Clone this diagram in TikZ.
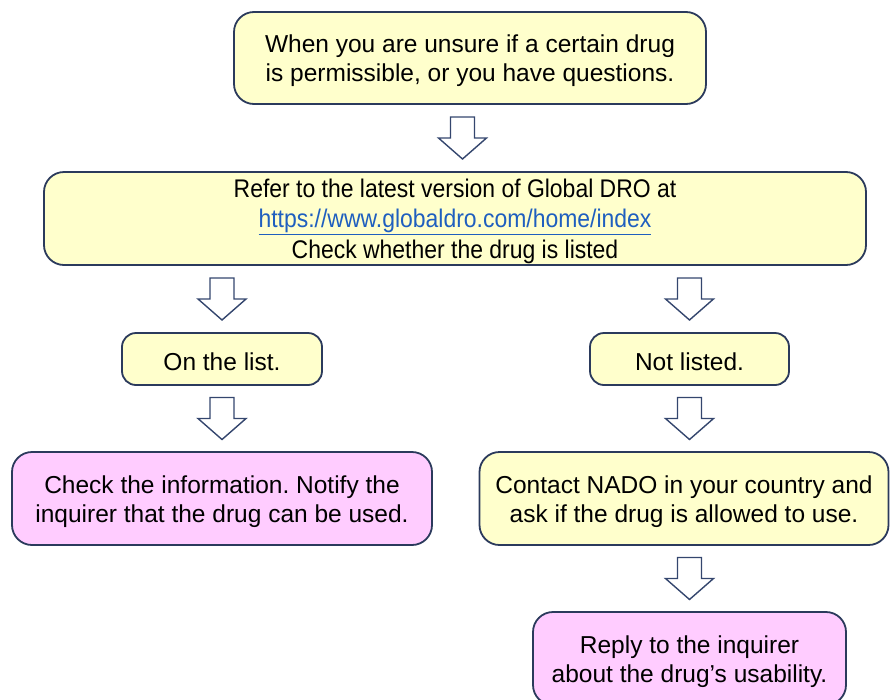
\documentclass[tikz,border=0pt]{standalone}
\usepackage{fontspec}
\setmainfont{Liberation Sans}
\usetikzlibrary{calc}
\definecolor{boxline}{HTML}{2B3A5C}
\definecolor{yel}{HTML}{FFFFCC}
\definecolor{pnk}{HTML}{FFCCFF}
\definecolor{lnk}{HTML}{1F5FBF}
\definecolor{arrline}{HTML}{34466E}
\frenchspacing
\newcommand{\lowstrut}{\rule{0pt}{24pt}}
\tikzset{
  x=1pt,y=-1pt,
  stepbox/.style={draw=boxline, line width=1.8pt, rounded corners=20pt, align=center,
     font=\fontsize{24.5}{29}\selectfont, inner sep=0pt},
  ybox/.style={stepbox, fill=yel},
  pbox/.style={stepbox, fill=pnk},
  downarrow/.pic={\draw[arrline, line width=1.4pt, fill=white, line join=miter]
     (-12,-21) -- (12,-21) -- (12,0) -- (24,0) -- (0,21) -- (-24,0) -- (-12,0) -- cycle;}
}
\begin{document}
\begin{tikzpicture}
\useasboundingbox (0,0) rectangle (890,699);
\node[ybox, minimum width=472, minimum height=92] (top) at (470,58)
  {\lowstrut When you are unsure if a certain drug\\is permissible, or you have questions.};
\node[ybox, minimum width=822, minimum height=93, font=\fontsize{25.5}{30.5}\selectfont] (dro) at (455,218.5)
  {\lowstrut\scalebox{0.9}[1]{Refer to the latest version of Global DRO at}\\
   \scalebox{0.9}[1]{\color{lnk}\underline{https://www.globaldro.com/home/index}}\\
   \scalebox{0.9}[1]{Check whether the drug is listed}};
\node[ybox, rounded corners=14pt, minimum width=200, minimum height=52] (onlist) at (222,359) {\lowstrut On the list.};
\node[ybox, rounded corners=14pt, minimum width=199, minimum height=52] (notlisted) at (689.5,359) {\lowstrut Not listed.};
\node[pbox, minimum width=420, minimum height=93] (check) at (222,498.5)
  {\lowstrut Check the information. Notify the\\inquirer that the drug can be used.};
\node[ybox, minimum width=409, minimum height=93] (contact) at (684,498.5)
  {\lowstrut Contact NADO in your country and\\ask if the drug is allowed to use.};
\node[pbox, minimum width=313, minimum height=93] (reply) at (689.5,658.5)
  {\lowstrut Reply to the inquirer\\about the drug’s usability.};
\pic at ($(top.south)!0.5!(dro.north)$) {downarrow};
\pic at ($(onlist.north |- dro.south)!0.5!(onlist.north)$) {downarrow};
\pic at ($(notlisted.north |- dro.south)!0.5!(notlisted.north)$) {downarrow};
\pic at ($(onlist.south)!0.5!(check.north)$) {downarrow};
\pic at ($(notlisted.south)!0.5!(contact.north -| notlisted.south)$) {downarrow};
\pic at ($(contact.south -| reply.north)!0.5!(reply.north)$) {downarrow};
\end{tikzpicture}
\end{document}
